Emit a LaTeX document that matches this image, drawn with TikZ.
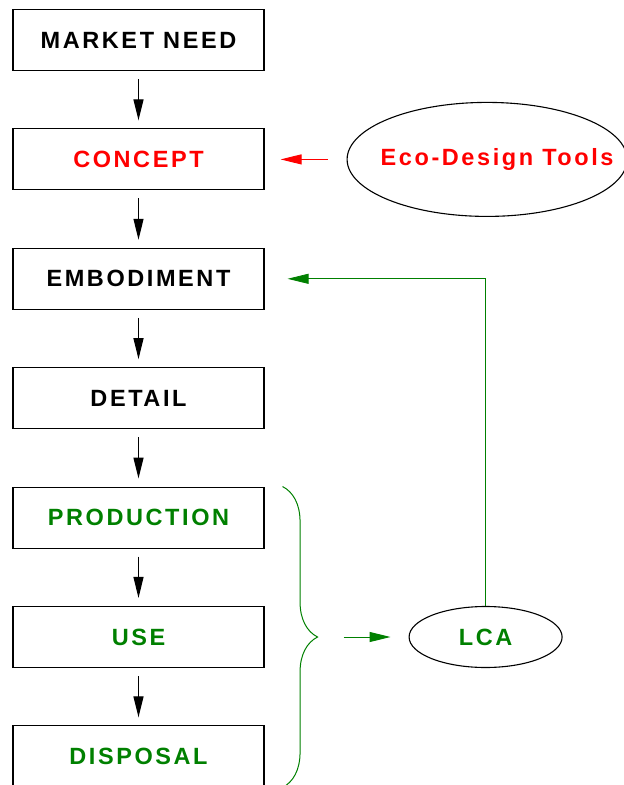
\documentclass[tikz,border=0pt]{standalone}
\usepackage{fontspec}
\setmainfont{Liberation Sans}[LetterSpace=11]
\usetikzlibrary{positioning,shapes.geometric,arrows.meta,decorations.pathreplacing}
\definecolor{ecored}{RGB}{255,0,0}
\definecolor{ecogreen}{RGB}{0,128,0}

\begin{document}
\begin{tikzpicture}[x=1pt, y=-1pt, node distance = {57.3pt},
	main/.style = {draw, line width=1.1pt, minimum width=251pt, minimum height=61pt, font=\fontsize{23.5}{27}\selectfont\bfseries},
	oval/.style = {draw, ellipse, line width=1.1pt, font=\fontsize{23.5}{27}\selectfont\bfseries},
	flow/.style = {-{Triangle[length=21pt,width=10pt]}, line width=1.2pt, shorten <=8pt, shorten >=8pt}]
	\useasboundingbox (0,0) rectangle (624,785);
	\node[main] (1) at (138.5,40) {MARKET NEED};
	\node[main, text=ecored] (2) [below=of 1] {CONCEPT};
	\node[main] (3) [below=of 2] {EMBODIMENT};
	\node[main] (4) [below=of 3] {DETAIL};
	\node[main, text=ecogreen] (5) [below=of 4] {PRODUCTION};
	\node[main, text=ecogreen] (6) [below=of 5] {USE};
	\node[main, text=ecogreen] (7) [below=of 6] {DISPOSAL};
	\node[oval, text=ecored, minimum width=280pt, minimum height=114pt] (8) [right=82pt of 2] {\makebox[0pt]{\hspace{20pt}Eco-Design Tools}};
	\node[oval, text=ecogreen, minimum width=153pt, minimum height=61pt] (9) [right=144pt of 6] {LCA};
	\coordinate (tip) at ([xshift=79pt]6.east);
	% main design chain
	\foreach \a/\b in {1/2, 2/3, 3/4, 4/5, 5/6, 6/7}
		\draw[flow] (\a) -- (\b);
	% tools feed the concept stage
	\draw[flow, color=ecored, line width=1pt, shorten <=19pt, shorten >=16pt] (8) -- (2);
	% life cycle stages grouped for the LCA
	\draw[ecogreen, line width=1pt, decorate, decoration={brace, amplitude=35pt}] ([xshift=18pt]5.north east) -- ([xshift=18pt]7.south east);
	\draw[flow, color=ecogreen, line width=1pt, shorten <=0pt, shorten >=18pt] (tip) -- (9);
	\draw[flow, color=ecogreen, line width=0.8pt, shorten <=0pt, shorten >=23pt] (9.north) |- (3.east);
\end{tikzpicture}
\end{document}
